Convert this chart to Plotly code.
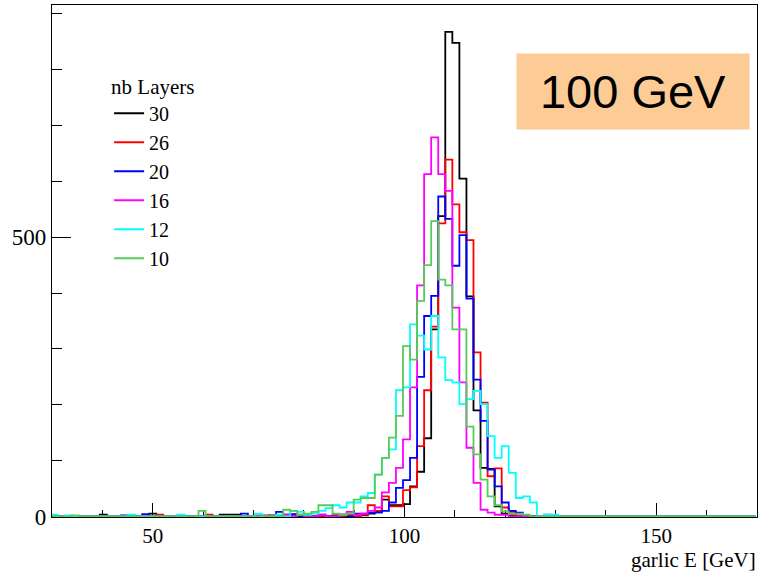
import numpy as np
import plotly.graph_objects as go

# ---- data -------------------------------------------------------------
bin_start = 29.7      # GeV, lower edge of first bin
bin_width = 1.4       # GeV
n_bins = 100

layers = ["30", "26", "20", "16", "12", "10"]
colors = ["#000000", "#FF0000", "#0000FF", "#FF00FF", "#00FFFF", "#55CC55"]

# counts for bins 36..71 (peak region); other bins listed in sparse noise below
first_bin = 36
counts_30 = [0, 0, 0, 0, 2, 0, 0, 3, 2, 5, 8, 30, 20, 20, 22, 54, 80, 140, 335, 538,
             868, 848, 605, 394, 190, 87, 85, 18, 5, 2, 0, 0, 0, 0, 0, 0]
counts_26 = [0, 0, 0, 0, 2, 0, 3, 0, 3, 20, 10, 36, 18, 18, 47, 52, 126, 226, 340, 525,
             639, 559, 509, 495, 294, 204, 72, 86, 16, 8, 2, 0, 0, 0, 0, 0]
counts_20 = [0, 0, 3, 0, 0, 3, 0, 5, 5, 7, 7, 10, 25, 51, 65, 105, 250, 359, 395, 573,
             533, 449, 504, 390, 245, 171, 84, 54, 25, 10, 7, 0, 0, 0, 0, 0]
counts_16 = [0, 0, 3, 0, 0, 3, 8, 3, 5, 10, 16, 43, 60, 87, 138, 231, 414, 613, 679, 613,
             583, 374, 240, 123, 60, 12, 7, 3, 3, 0, 0, 0, 0, 0, 3, 0]
counts_12 = [3, 5, 10, 15, 20, 16, 25, 25, 36, 42, 75, 105, 120, 226, 231, 344, 324, 299, 359, 285,
             244, 240, 201, 210, 225, 201, 144, 105, 126, 78, 33, 36, 25, 0, 3, 3]
counts_10 = [5, 8, 20, 20, 5, 3, 5, 30, 33, 33, 75, 105, 141, 180, 305, 281, 386, 450, 529, 424,
             414, 335, 335, 161, 111, 66, 36, 20, 9, 5, 5, 3, 0, 0, 0, 0]

# sparse low-energy entries: bin index -> count
noise_30 = {7: 3, 14: 5, 24: 3, 25: 3, 26: 3, 31: 2, 33: 3}
noise_26 = {15: 3, 22: 3, 30: 2, 34: 3}
noise_20 = {10: 2, 13: 4, 27: 5, 32: 8, 34: 4}
noise_16 = {18: 2, 29: 2, 33: 3, 35: 3}
noise_12 = {0: 3, 2: 2, 11: 3, 18: 3, 29: 5, 32: 3, 34: 10, 35: 8}
noise_10 = {3: 2, 21: 10, 33: 12, 34: 10, 35: 3}

all_counts = [counts_30, counts_26, counts_20, counts_16, counts_12, counts_10]
all_noise = [noise_30, noise_26, noise_20, noise_16, noise_12, noise_10]

x_ticks = [50, 100, 150]
y_ticks = [0, 500]

# ---- figure -----------------------------------------------------------
edges = bin_start + bin_width * np.arange(n_bins + 1)

fig = go.Figure()
for name, col, cts, noise in zip(layers, colors, all_counts, all_noise):
    h = np.zeros(n_bins)
    h[first_bin:first_bin + len(cts)] = cts
    for k, v in noise.items():
        h[k] = v
    y = np.append(h, h[-1])
    fig.add_trace(go.Scatter(
        x=edges, y=y, mode="lines", name=name,
        line=dict(color=col, width=1.8, shape="hv"),
        showlegend=True,
    ))

serif = "Liberation Serif, Times New Roman, serif"

fig.update_layout(
    width=760, height=573,
    margin=dict(l=52, r=3, t=5, b=56),
    paper_bgcolor="white", plot_bgcolor="white",
    font=dict(family=serif, size=22, color="black"),
    showlegend=True,
    legend=dict(
        title=dict(text="nb Layers", font=dict(family=serif, size=21)),
        font=dict(family=serif, size=20),
        x=0.081, y=0.88, xanchor="left", yanchor="top",
        bgcolor="rgba(0,0,0,0)", borderwidth=0,
        tracegroupgap=0, itemwidth=30,
    ),
    xaxis=dict(
        range=[30, 170], showgrid=False, zeroline=False,
        showline=True, linecolor="black", linewidth=1.2, mirror=True,
        tickmode="array", tickvals=x_ticks, ticks="inside", ticklen=14,
        tickcolor="black", tickwidth=1.2,
        minor=dict(dtick=10, tick0=0, ticks="inside", ticklen=7,
                   tickcolor="black", tickwidth=1.2, showgrid=False),
        tickfont=dict(family=serif, size=21),
        layer="below traces",
    ),
    yaxis=dict(
        range=[-1, 916], showgrid=False, zeroline=False,
        showline=True, linecolor="black", linewidth=1.2, mirror=True,
        tickmode="array", tickvals=y_ticks, ticks="inside", ticklen=19,
        tickcolor="black", tickwidth=1.2,
        minor=dict(dtick=100, tick0=0, ticks="inside", ticklen=10,
                   tickcolor="black", tickwidth=1.2, showgrid=False),
        tickfont=dict(family=serif, size=23),
        layer="below traces",
    ),
    annotations=[
        dict(text="garlic E [GeV]", xref="paper", yref="paper", x=1.0,
             y=-(560 - 517) / 512, xanchor="right", yanchor="middle", showarrow=False,
             borderpad=0, font=dict(family=serif, size=21)),
        dict(text="100 GeV", xref="paper", yref="paper",
             x=(633 - 52) / 705, y=(517 - 91.5) / 512, xanchor="center", yanchor="middle",
             showarrow=False, font=dict(family="Liberation Sans, Arial, sans-serif", size=47),
             bgcolor="#FDCB95", width=230, height=73),
    ],
)

fig.write_html("out.html")
